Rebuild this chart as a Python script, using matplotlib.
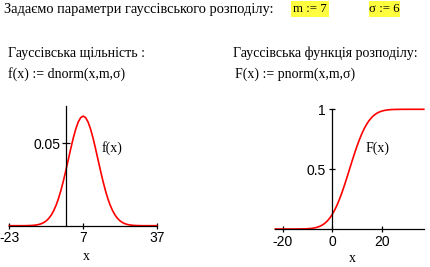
import matplotlib
matplotlib.use("Agg")
import matplotlib.pyplot as plt
from matplotlib.patches import Rectangle

W, H = 431, 267

# ---- data (m = 7, sigma = 6) ----
x_vals = list(range(-23, 38))
f_vals = [0.00000, 0.00000, 0.00000, 0.00000, 0.00000, 0.00000, 0.00000, 0.00004,
          0.00008, 0.00015, 0.00026, 0.00044, 0.00074, 0.00120, 0.00190, 0.00292,
          0.00437, 0.00636, 0.00900, 0.01238, 0.01658, 0.02159, 0.02733, 0.03367,
          0.04033, 0.04698, 0.05324, 0.05868, 0.06290, 0.06557, 0.06649,
          0.06557, 0.06290, 0.05868, 0.05324, 0.04698, 0.04033, 0.03367, 0.02733,
          0.02159, 0.01658, 0.01238, 0.00900, 0.00636, 0.00437, 0.00292, 0.00190,
          0.00120, 0.00074, 0.00044, 0.00026, 0.00015, 0.00008, 0.00004, 0.00000,
          0.00000, 0.00000, 0.00000, 0.00000, 0.00000, 0.00000]
F_vals = [0.00000, 0.00000, 0.00000, 0.00000, 0.00000, 0.00001, 0.00003, 0.00006,
          0.00012, 0.00023, 0.00043, 0.00080, 0.00135, 0.00230, 0.00380, 0.00620,
          0.00980, 0.01510, 0.02280, 0.03340, 0.04780, 0.06680, 0.09120, 0.12170,
          0.15870, 0.20230, 0.25250, 0.30850, 0.36940, 0.43380, 0.50000,
          0.56620, 0.63060, 0.69150, 0.74750, 0.79770, 0.84130, 0.87830, 0.90880,
          0.93320, 0.95220, 0.96660, 0.97720, 0.98490, 0.99020, 0.99380, 0.99620,
          0.99770, 0.99865, 0.99920, 0.99957, 0.99977, 0.99988, 0.99994, 0.99997,
          0.99999, 1.00000, 1.00000, 1.00000, 1.00000, 1.00000]

left_xticks = [-23, 7, 37]
left_yticks = [0.05]
right_xticks = [-20, 0, 20]
right_yticks = [0.5, 1]

serif = ["Liberation Serif", "DejaVu Serif"]
sans = ["Liberation Sans", "DejaVu Sans"]

fig = plt.figure(figsize=(W / 100, H / 100), dpi=100)
fig.patch.set_facecolor("white")


def fx(px):
    return px / W


def fy(py):
    return 1 - py / H


def txt(px, py, s, size=10, fam=serif, ha="left", **kw):
    fig.text(fx(px), fy(py), s, fontsize=size, family=fam, ha=ha, va="center", **kw)


def ybox(x0, x1, y0, y1):
    fig.patches.append(Rectangle((fx(x0), fy(y1)), (x1 - x0) / W, (y1 - y0) / H,
                                 transform=fig.transFigure, fc="#FFFF40", ec="none",
                                 zorder=0))


# header texts
txt(4, 9, "Задаємо параметри гауссівського розподілу:", size=10.4)
ybox(291, 329, 1, 17)
ybox(369.5, 400, 1, 17)
txt(310, 9, "m := 7", size=9.3, ha="center")
txt(384.8, 9, "σ := 6", size=9.3, ha="center")
txt(8, 53, "Гауссівська щільність :")
txt(8, 74, "f(x) := dnorm(x,m,σ)")
txt(233, 53, "Гауссівська функція розподілу:")
txt(235, 74, "F(x) := pnorm(x,m,σ)")


def make_axes(x0, x1, ytop, ybot):
    ax = fig.add_axes([fx(x0), fy(ybot), (x1 - x0) / W, (ybot - ytop) / H])
    ax.patch.set_alpha(0)
    for s in ("top", "right"):
        ax.spines[s].set_visible(False)
    ax.spines["left"].set_position(("data", 0))
    for s in ("left", "bottom"):
        ax.spines[s].set_linewidth(0.9)
    return ax


# left plot
axL = make_axes(9.3, 157.0, 105.7, 225.7)
axL.plot(x_vals, f_vals, color="#FF0000", lw=1.2, clip_on=False)
axL.set_xlim(-23, 37)
axL.set_ylim(0, 0.0728)
axL.set_xticks(left_xticks)
axL.set_xticklabels([str(v) for v in left_xticks], family=sans, fontsize=10)
axL.set_yticks(left_yticks)
axL.set_yticklabels(["0.05"], family=sans, fontsize=10)
axL.tick_params(axis="x", direction="inout", length=4, width=0.9, pad=2)
axL.tick_params(axis="y", direction="inout", length=6, width=0.9, pad=1)
txt(101.5, 148, "f(x)")
txt(86, 256, "x", ha="center")

# right plot
axR = make_axes(275.3, 423.8, 109.3, 229.0)
axR.plot(x_vals, F_vals, color="#FF0000", lw=1.2, clip_on=False)
axR.set_xlim(-23, 37)
axR.set_ylim(0, 1)
axR.set_xticks(right_xticks)
axR.set_xticklabels([str(v) for v in right_xticks], family=sans, fontsize=10)
axR.set_yticks(right_yticks)
axR.set_yticklabels(["0.5", "1"], family=sans, fontsize=10)
axR.tick_params(axis="both", direction="inout", length=5, width=0.9, pad=2)
txt(366, 148, "F(x)")
txt(352, 259, "x", ha="center")

fig.savefig("out.png", dpi=100)
